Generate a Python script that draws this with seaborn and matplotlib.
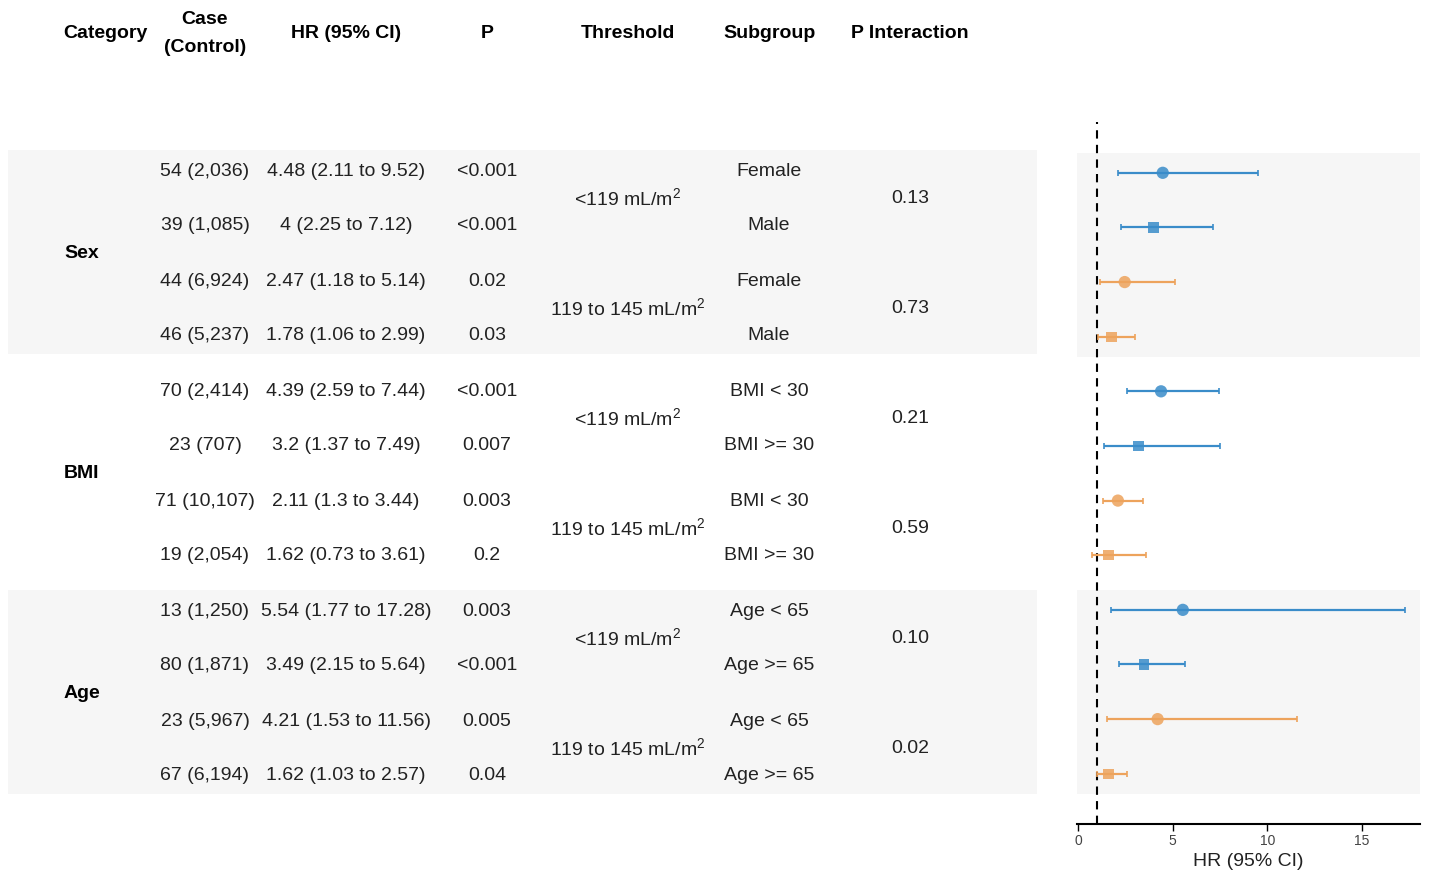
import matplotlib
matplotlib.use("Agg")
import matplotlib.pyplot as plt
import numpy as np
import pandas as pd
import seaborn as sns

sns.set_theme(style="white")
plt.rcParams["font.family"] = ["Liberation Sans", "DejaVu Sans"]
plt.rcParams["mathtext.fontset"] = "custom"
plt.rcParams["mathtext.rm"] = "Liberation Sans"
plt.rcParams["mathtext.it"] = "Liberation Sans:italic"
plt.rcParams["mathtext.bf"] = "Liberation Sans:bold"

# ---- data ----
categories = ["Sex", "BMI", "Age"]
thresholds = [r"<119 mL/m$^2$", r"119 to 145 mL/m$^2$"]
subgroups = ["Female", "Male", "Female", "Male",
             "BMI < 30", "BMI >= 30", "BMI < 30", "BMI >= 30",
             "Age < 65", "Age >= 65", "Age < 65", "Age >= 65"]
case_control = ["54 (2,036)", "39 (1,085)", "44 (6,924)", "46 (5,237)",
                "70 (2,414)", "23 (707)", "71 (10,107)", "19 (2,054)",
                "13 (1,250)", "80 (1,871)", "23 (5,967)", "67 (6,194)"]
hr = [4.48, 4, 2.47, 1.78, 4.39, 3.2, 2.11, 1.62, 5.54, 3.49, 4.21, 1.62]
ci_low = [2.11, 2.25, 1.18, 1.06, 2.59, 1.37, 1.3, 0.73, 1.77, 2.15, 1.53, 1.03]
ci_high = [9.52, 7.12, 5.14, 2.99, 7.44, 7.49, 3.44, 3.61, 17.28, 5.64, 11.56, 2.57]
p_values = ["<0.001", "<0.001", "0.02", "0.03", "<0.001", "0.007", "0.003", "0.2",
            "0.003", "<0.001", "0.005", "0.04"]
p_interaction = ["0.13", "0.73", "0.21", "0.59", "0.10", "0.02"]

def fmt_hr(h, lo, hi):
    return f"{h:g} ({lo:g} to {hi:g})"

n = len(hr)
df = pd.DataFrame({
    "row": np.arange(n),
    "hr": hr,
    "lo": ci_low,
    "hi": ci_high,
    "threshold": [thresholds[(i // 2) % 2] for i in range(n)],
    "level": ["first" if i % 2 == 0 else "second" for i in range(n)],
})

blue = "#3a8cc9"
orange = "#eda35c"
palette = {thresholds[0]: blue, thresholds[1]: orange}
band_color = "#f6f6f6"
text_color = "#222222"

W, H = 1430, 876
fig = plt.figure(figsize=(W / 100, H / 100), dpi=100)

# ---- table (pixel-space axes) ----
tab = fig.add_axes([0, 0, 1, 1])
tab.set_xlim(0, W)
tab.set_ylim(H, 0)
tab.axis("off")

row_y0, row_dy = 169, 55
def ry(i):
    return row_y0 + row_dy * i

for g in (0, 2):
    tab.axhspan(ry(4 * g) - 19, ry(4 * g + 3) + 20, xmin=8 / W, xmax=1037 / W,
                color=band_color, lw=0, zorder=0)

fs = 14
dy = 2  # optical centring of text on the row line
hdr = dict(fontsize=fs, fontweight="bold", ha="center", va="center", color="black")
tab.text(105, 32 + dy, "Category", **hdr)
tab.text(205, 18 + dy, "Case", **hdr)
tab.text(205, 45 + dy, "(Control)", **hdr)
tab.text(346, 32 + dy, "HR (95% CI)", **hdr)
tab.text(487, 32 + dy, "P", **hdr)
tab.text(628, 32 + dy, "Threshold", **hdr)
tab.text(769, 32 + dy, "Subgroup", **hdr)
tab.text(910, 32 + dy, "P Interaction", **hdr)

body = dict(fontsize=fs, ha="center", va="center", color=text_color)
for i in range(n):
    y = ry(i) + dy
    tab.text(205, y, case_control[i], **body)
    tab.text(346, y, fmt_hr(hr[i], ci_low[i], ci_high[i]), **body)
    tab.text(487, y, p_values[i], **body)
    tab.text(769, y, subgroups[i], **body)

for k in range(6):
    y = (ry(2 * k) + ry(2 * k + 1)) / 2 + dy
    tab.text(628, y, thresholds[k % 2], **body)
    tab.text(910, y, p_interaction[k], **body)

for g, cat in enumerate(categories):
    y = (ry(4 * g) + ry(4 * g + 3)) / 2 + dy
    tab.text(64, y, cat, fontsize=fs, fontweight="bold", ha="left", va="center",
             color="black")

# ---- forest plot ----
ax = fig.add_axes([1077 / W, 52 / H, 343 / W, 702 / H])
ax.set_facecolor("none")
ax.set_ylim(11.92, -0.93)
ax.set_xlim(-0.05, 18.07)

for g in (0, 2):
    ax.axhspan(4 * g - 0.37, 4 * g + 3.37, color=band_color, lw=0, zorder=0)

ax.axvline(1, color="black", ls=(0, (4, 3)), lw=1.5, zorder=1)

for t in thresholds:
    sub = df[df["threshold"] == t]
    ax.errorbar(sub["hr"], sub["row"],
                xerr=[sub["hr"] - sub["lo"], sub["hi"] - sub["hr"]],
                fmt="none", ecolor=palette[t], elinewidth=1.6, capsize=2,
                capthick=1.2, zorder=2)

sns.scatterplot(data=df, x="hr", y="row", hue="threshold", style="level",
                size="level", sizes={"first": 78, "second": 56},
                palette=palette, markers={"first": "o", "second": "s"},
                alpha=0.85, linewidth=0, legend=False, ax=ax, zorder=3)

sns.despine(ax=ax, left=True, top=True, right=True)
ax.spines["bottom"].set_color("black")
ax.spines["bottom"].set_linewidth(1.5)
ax.set_yticks([])
ax.set_xticks([0, 5, 10, 15])
ax.tick_params(axis="x", bottom=True, length=5, width=1, color="black",
               labelcolor="#444444", labelsize=10, pad=2)
ax.set_xlabel("HR (95% CI)", fontsize=14, color=text_color, labelpad=4)
ax.set_ylabel("")

fig.savefig("out.png", dpi=100)
